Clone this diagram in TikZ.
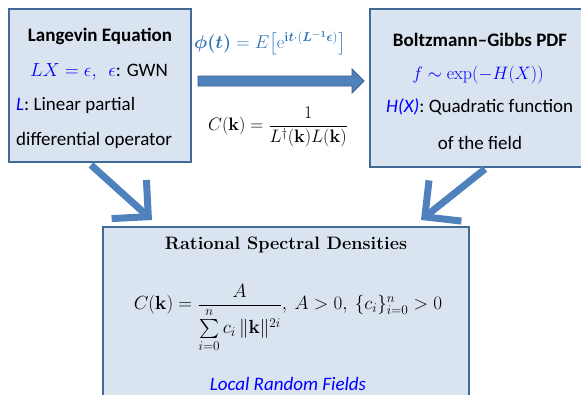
\RequirePackage{fix-cm}
\documentclass[tikz,border=0pt]{standalone}
\usepackage{amsmath,amssymb}
\usepackage[no-math]{fontspec}
\setmainfont{Carlito}
\newfontfamily\serifb{Latin Modern Roman}
\usetikzlibrary{arrows.meta}
\definecolor{boxfill}{RGB}{218,227,240}
\definecolor{boxline}{RGB}{65,106,150}
\definecolor{arrblue}{RGB}{79,129,189}
\definecolor{arrline}{RGB}{56,93,138}
\definecolor{phiblue}{RGB}{46,117,182}
\definecolor{pureblue}{RGB}{0,0,255}
\tikzset{
  panel/.style={draw=boxline, line width=1.6pt, fill=boxfill},
  txt/.style={font=\fontsize{19}{22}\selectfont, inner sep=0pt},
  mth/.style={font=\fontsize{18}{21}\selectfont, inner sep=0pt},
  bigarrow/.style={draw=arrblue, line width=7pt,
    -{Straight Barb[length=26pt,width=52pt,line width=7pt]}},
}
\begin{document}
\begin{tikzpicture}[x=1pt,y=-1pt]
\useasboundingbox (0,0) rectangle (581,394);
% boxes
\draw[panel] (9,9) rectangle (191,162);
\draw[panel] (370,9) rectangle (600,167);
\draw[panel] (103,227) rectangle (469,410);
% left box text
\node[txt, font=\fontsize{19}{22}\selectfont\bfseries] (lt) at (100,36) {Langevin Equation};
\node[txt] (l1) at (99,72) {$\color{pureblue}LX=\epsilon,\ \ \epsilon$: GWN};
\node[txt, anchor=west] (l2) at (16,105) {{\color{pureblue}\itshape L}: Linear partial};
\node[txt, anchor=west] (l3) at (16,140) {differential operator};
% right box text
\node[txt, font=\fontsize{19}{22}\selectfont\bfseries] (rt) at (480,40) {Boltzmann–Gibbs PDF};
\node[mth, text=pureblue] (r1) at (478,75) {$f\sim\exp(-H(X))$};
\node[txt, anchor=west] (r2) at (386,107) {{\color{pureblue}\itshape H(X)}: Quadratic function};
\node[txt] (r3) at (480,143) {of the field};
% middle
\node[mth, text=phiblue, font=\fontsize{18.5}{21}\selectfont] (phi) at (270,43) {$\boldsymbol{\phi(t)}=E\bigl[\mathrm{e}^{\mathbf{i}\boldsymbol{t}\cdot(\boldsymbol{L^{-1}\epsilon})}\bigr]$};
\draw[draw=arrline, fill=arrblue, line width=0.8pt]
  (198,76) -- (352,76) -- (352,69) -- (364,81) -- (352,93) -- (352,86) -- (198,86) -- cycle;
\node[mth] (ck) at (278,127) {$C(\mathbf{k})=\dfrac{1}{L^{\dagger}(\mathbf{k})L(\mathbf{k})}$};
% diagonal arrows
\coordinate (a1s) at (91,165);
\coordinate (a1e) at (152,220);
\coordinate (a2s) at (485,169);
\coordinate (a2e) at (421,220);
\draw[bigarrow] (a1s) -- (a1e);
\draw[bigarrow] (a2s) -- (a2e);
% bottom box
\node[txt, font=\fontsize{18}{21}\serifb\bfseries] (bt) at (286,245) {Rational Spectral Densities};
\node[mth, font=\fontsize{19}{22}\selectfont] (bf) at (288,318) {$C(\mathbf{k})=\dfrac{A}{\sum\limits_{i=0}^{n} c_i\,\|\mathbf{k}\|^{2i}},\ A>0,\ \{c_i\}_{i=0}^{n}>0$};
\node[txt, text=pureblue, font=\fontsize{19}{22}\selectfont\itshape] (bl) at (288,384) {Local Random Fields};
\end{tikzpicture}
\end{document}
